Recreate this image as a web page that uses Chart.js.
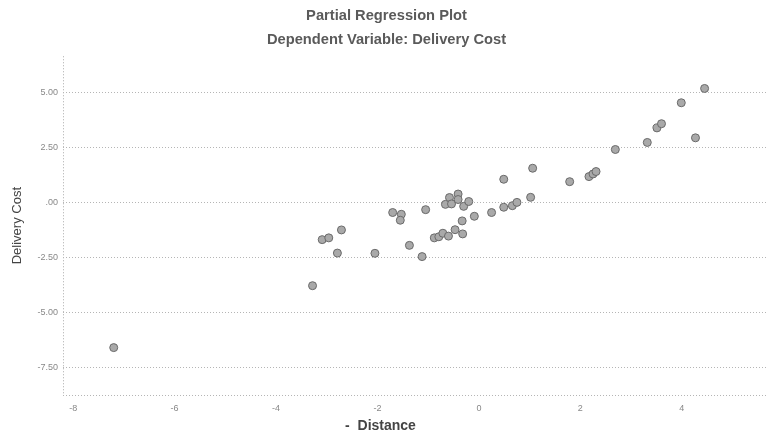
<!DOCTYPE html>
<html>
<head>
<meta charset="utf-8">
<script src="https://cdn.jsdelivr.net/npm/chart.js@4/dist/chart.umd.min.js"></script>
<style>
  body { margin: 0; background: #fff; }
</style>
</head>
<body>
<canvas id="plot" width="773" height="446"></canvas>
<script>

// residuals
var distanceResid = [
  -7.20, -3.28, -3.09, -2.96, -2.71, -2.79, -2.05,
  -1.70, -1.53, -1.55, -1.37, -1.05, -1.12,
  -0.88, -0.79, -0.71, -0.60, -0.47, -0.32, -0.33,
  -0.66, -0.58, -0.54, -0.41, -0.41, -0.30, -0.20, -0.09,
  0.25, 0.49, 0.49, 0.66, 0.75, 1.02, 1.06,
  1.79, 2.17, 2.25, 2.31, 2.69, 3.32, 3.51, 3.60,
  4.27, 3.99, 4.45
];
var costResid = [
  -6.58, -3.77, -1.68, -1.60, -1.24, -2.29, -2.30,
  -0.45, -0.53, -0.80, -1.94, -0.32, -2.45,
  -1.60, -1.55, -1.39, -1.52, -1.23, -1.42, -0.83,
  -0.08, 0.23, -0.06, 0.39, 0.14, -0.17, 0.05, -0.62,
  -0.45, -0.21, 1.06, -0.14, 0.01, 0.24, 1.56,
  0.95, 1.18, 1.30, 1.41, 2.41, 2.73, 3.39, 3.58,
  2.94, 4.53, 5.18
];

var xTicks = [-8, -6, -4, -2, 0, 2, 4];
var yTicks = [-7.5, -5, -2.5, 0, 2.5, 5];

var points = distanceResid.map(function (x, i) {
  return { x: x, y: costResid[i] };
});

function yLabel(v) {
  var s = Math.abs(v).toFixed(2);
  if (s.charAt(0) === '0') s = s.substring(1);
  return (v < 0 ? '-' : '') + s;
}

// the x title sits left of the plot centre in the original
var xTitle = "-  Distance" + "\u00a0".repeat(18);

new Chart("plot", {
  type: "scatter",
  data: {
    datasets: [{
      data: points,
      pointRadius: 4,
      pointHoverRadius: 4,
      pointBackgroundColor: "#a9a9a9",
      pointBorderColor: "#6a6a6a",
      pointBorderWidth: 1
    }]
  },
  options: {
    responsive: false,
    animation: false,
    devicePixelRatio: 1,
    layout: { padding: { top: 0, right: 0, bottom: 0, left: 0 } },
    plugins: {
      legend: { display: false },
      tooltip: { enabled: false },
      title: {
        display: true,
        text: "Partial Regression Plot",
        color: "#5a5a5a",
        font: { family: "Arial, 'Liberation Sans'", size: 14.7, weight: "bold" },
        padding: { top: 7, bottom: 6 }
      },
      subtitle: {
        display: true,
        text: "Dependent Variable: Delivery Cost",
        color: "#5a5a5a",
        font: { family: "Arial, 'Liberation Sans'", size: 14.7, weight: "bold" },
        padding: { top: 0, bottom: 8 }
      }
    },
    scales: {
      x: {
        type: "linear",
        min: -8.2,
        max: 5.7,
        afterBuildTicks: function (scale) {
          scale.ticks = [{ value: scale.min }].concat(xTicks.map(function (v) { return { value: v }; }));
        },
        afterFit: function (scale) { scale.height = 51; },
        ticks: {
          color: "#888",
          font: { family: "Arial, 'Liberation Sans'", size: 9 },
          padding: 8,
          maxRotation: 0,
          callback: function (v, i) { return i === 0 ? "" : String(v); }
        },
        grid: {
          drawTicks: false,
          color: function (ctx) { return ctx.index === 0 ? "#aaa" : "rgba(0,0,0,0)"; }
        },
        border: { display: false, dash: [1, 2] },
        title: {
          display: true,
          text: xTitle,
          color: "#444",
          font: { family: "Arial, 'Liberation Sans'", size: 14, weight: "bold" },
          padding: { top: 0, bottom: 11 }
        }
      },
      y: {
        type: "linear",
        min: -8.73,
        max: 6.64,
        afterBuildTicks: function (scale) {
          scale.ticks = [{ value: scale.min }].concat(yTicks.map(function (v) { return { value: v }; }));
        },
        afterFit: function (scale) { scale.width = 63; },
        ticks: {
          color: "#888",
          font: { family: "Arial, 'Liberation Sans'", size: 9 },
          padding: 5,
          callback: function (v, i) { return i === 0 ? "" : yLabel(v); }
        },
        grid: {
          drawTicks: false,
          color: "#b5b5b5"
        },
        border: { display: false, dash: [1, 2] },
        title: {
          display: true,
          text: "Delivery Cost",
          color: "#444",
          font: { family: "Arial, 'Liberation Sans'", size: 13 },
          padding: { top: 10, bottom: 4 }
        }
      }
    }
  }
});
</script>
</body>
</html>
